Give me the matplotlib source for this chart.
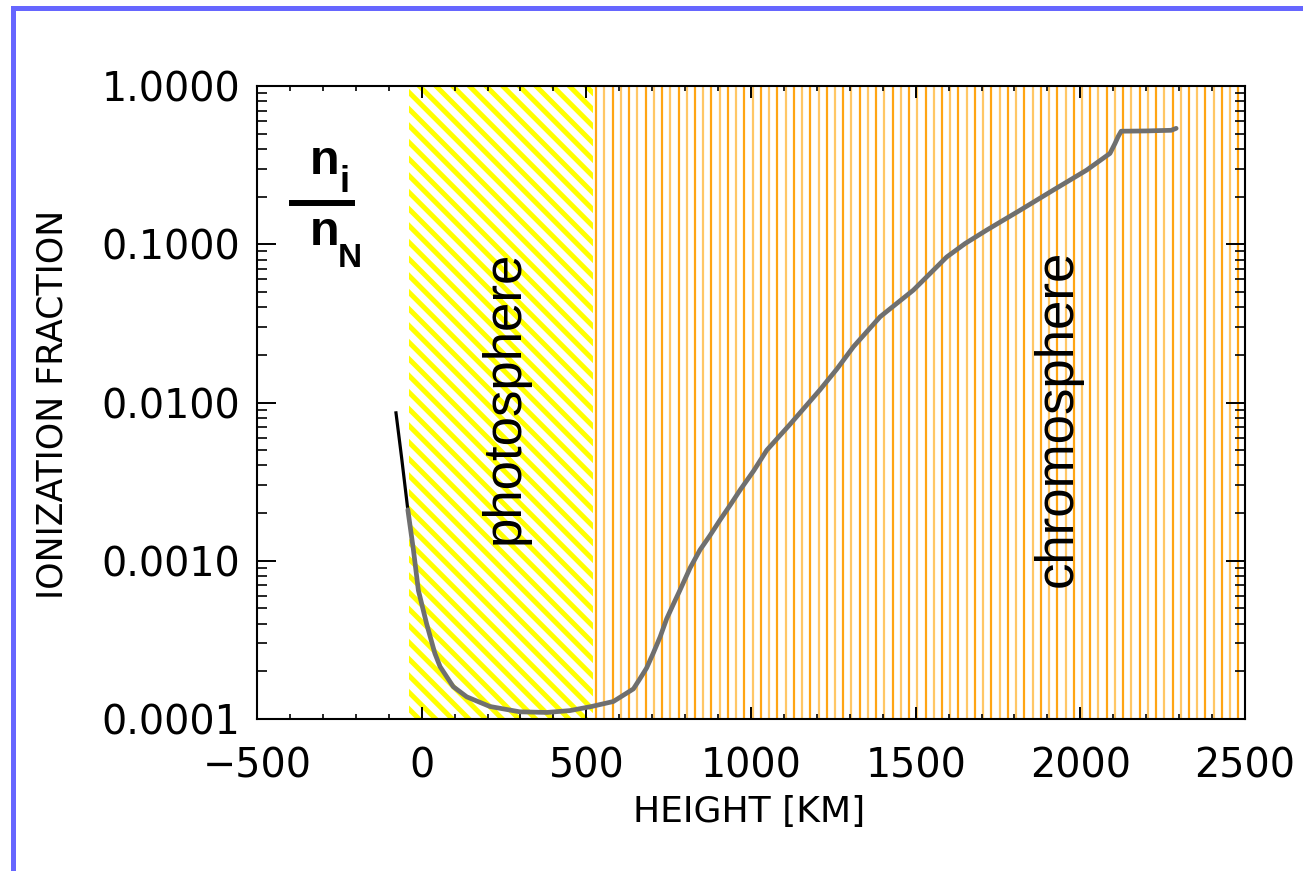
import matplotlib
matplotlib.use('Agg')
import matplotlib.pyplot as plt
from matplotlib.ticker import LogLocator, NullFormatter
from matplotlib.lines import Line2D
import numpy as np

plt.rcParams['font.family'] = ['DejaVu Sans']
plt.rcParams['hatch.linewidth'] = 3.6

# ionization fraction vs height
# solid black piece below the photosphere
h_deep = [-78, -61, -42]
f_deep = [0.0086, 0.0045, 0.0021]
# grey piece
h_km = [-42, -25, -10, 15, 40, 56, 76, 96, 137, 207, 298, 380, 450, 516,
        582, 643, 663, 683, 703, 724, 744, 764, 784, 815, 845, 876, 906,
        937, 967, 1008, 1048, 1119, 1209, 1260, 1311, 1392, 1493, 1594,
        1650, 1716, 1817, 1918, 2019, 2090, 2105, 2115, 2124, 2200, 2276, 2291]
frac = [0.0021, 0.00117, 0.00065, 0.00040, 0.00026, 0.000214, 0.000185,
        0.00016, 0.000138, 0.00012, 0.000111, 0.00011, 0.000113, 0.00012,
        0.000129, 0.000155, 0.00018, 0.00021, 0.00026, 0.00033, 0.00043,
        0.00053, 0.00065, 0.0009, 0.00117, 0.00145, 0.00181, 0.00225,
        0.0028, 0.0037, 0.005, 0.0073, 0.012, 0.0162, 0.0225, 0.0348,
        0.0513, 0.083, 0.101, 0.123, 0.164, 0.22, 0.294, 0.375, 0.432,
        0.48, 0.518, 0.52, 0.525, 0.54]

# layer boundaries [km]
photo_range = (-38, 519)
chromo_range = (530, 2500)
chromo_step = 25

yticks = [1e-4, 1e-3, 1e-2, 1e-1, 1.0]
ylabels = ['0.0001', '0.0010', '0.0100', '0.1000', '1.0000']
xticks = [-500, 0, 500, 1000, 1500, 2000, 2500]

W, H = 1303, 871
fig = plt.figure(figsize=(W / 100, H / 100), dpi=100)
ax = fig.add_axes([257 / W, 1 - 719 / H, (1245 - 257) / W, (719 - 86) / H])

# photosphere: yellow diagonal hatch
ax.axvspan(*photo_range, facecolor='none', edgecolor='#ffff00', hatch='\\\\',
           linewidth=0, zorder=0)
# chromosphere: orange vertical lines
xs = np.arange(chromo_range[0], chromo_range[1], chromo_step)
cols = ['#ffa514' if i % 2 == 0 else '#ffc766' for i in range(len(xs))]
ax.vlines(xs, 1e-4, 1.0, colors=cols, linewidth=1.6, zorder=0)

ax.plot(h_deep, f_deep, color='black', lw=2.3, zorder=3)
ax.plot(h_km, frac, color='#6f6f6f', lw=3.4, zorder=3, solid_capstyle='round')

ax.set_yscale('log')
ax.set_xlim(-500, 2500)
ax.set_ylim(1e-4, 1.0)
ax.set_yticks(yticks, ylabels)
ax.yaxis.set_minor_locator(LogLocator(base=10, subs=np.arange(2, 10), numticks=20))
ax.yaxis.set_minor_formatter(NullFormatter())
ax.set_xticks(xticks)
ax.set_xticks(np.arange(-500, 2501, 100), minor=True)

ax.tick_params(which='both', direction='in', top=True, right=True, color='black')
ax.tick_params(axis='y', which='major', length=14, width=1.4, labelsize=28.5, pad=12)
ax.tick_params(axis='y', which='minor', length=7, width=1.2)
ax.tick_params(axis='x', which='major', length=8.5, width=1.4, labelsize=28.5, pad=20)
ax.tick_params(axis='x', which='minor', length=3.6, width=1.2)
for s in ax.spines.values():
    s.set_linewidth(1.5)

fig.text(749 / W, 1 - 812 / H, 'HEIGHT [KM]', fontsize=26, ha='center', va='center')
fig.text(53 / W, 1 - 404 / H, 'IONIZATION FRACTION', fontsize=25, rotation=90,
         ha='center', va='center')

sans = ['Liberation Sans', 'DejaVu Sans']
ax.text(253, 0.0108, 'photosphere', rotation=90, fontsize=38, family=sans,
        ha='center', va='center', zorder=4)
ax.text(1930, 0.0079, 'chromosphere', rotation=90, fontsize=38, family=sans,
        ha='center', va='center', zorder=4)

# n_i / n_N fraction
fig.text(325 / W, 1 - 174 / H, 'n', fontsize=35, weight='bold', family=sans,
         ha='center', va='baseline')
fig.text(345 / W, 1 - 192 / H, 'i', fontsize=26, weight='bold', family=sans,
         ha='center', va='baseline')
fig.add_artist(Line2D([292 / W, 352 / W], [1 - 203 / H, 1 - 203 / H], color='black',
                      lw=4.3, transform=fig.transFigure))
fig.text(325 / W, 1 - 245 / H, 'n', fontsize=35, weight='bold', family=sans,
         ha='center', va='baseline')
fig.text(350 / W, 1 - 267 / H, 'N', fontsize=24, weight='bold', family=sans,
         ha='center', va='baseline')

# blue slide frame (top and left edges visible)
fig.add_artist(plt.Rectangle((13.5 / W, -0.1), 2, 1.1 - 8.5 / H, fill=False,
                             edgecolor='#6666ff', lw=3.6, transform=fig.transFigure))

fig.savefig('out.png', dpi=100)
